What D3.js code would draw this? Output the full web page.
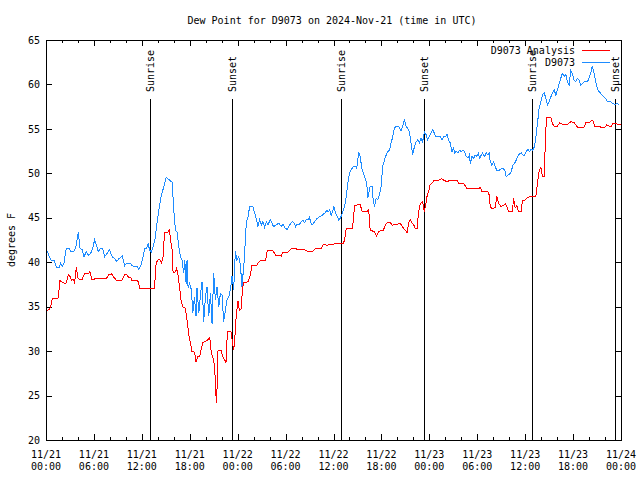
<!DOCTYPE html>
<html><head><meta charset="utf-8">
<script src="https://cdn.jsdelivr.net/npm/d3@7"></script>
<style>
body{margin:0;background:#fff}
svg text{font-family:"DejaVu Sans Mono",monospace;font-size:10px;fill:#000}
</style>
</head><body>
<svg id="c" width="640" height="480"></svg>
<script>
const titleText = "Dew Point for D9073 on 2024-Nov-21 (time in UTC)";
const yLabelText = "degrees F";
const seriesNames = ["D9073 Analysis", "D9073"];
const seriesColors = ["#ff0000", "#1e8cff"];
const startTime = Date.UTC(2024, 10, 21, 0, 0);
const endTime = Date.UTC(2024, 10, 24, 0, 0);
const yTicks = [20, 25, 30, 35, 40, 45, 50, 55, 60, 65];
const sunNames = ["Sunrise", "Sunset", "Sunrise", "Sunset", "Sunrise", "Sunset"];
const sunHours = [12.97, 23.33, 36.95, 47.3, 60.9, 71.2];

// D9073 Analysis (red): hours since 11/21 00:00 UTC, dew point (F)
const analysisHours = [0.09,0.38,0.59,0.79,1.5,1.63,1.75,1.91,2.13,2.46,2.59,2.79,3.0,3.21,3.38,3.59,3.79,4.0,4.25,4.54,4.84,5.38,5.5,5.71,5.91,6.21,7.59,7.88,8.21,8.5,8.79,9.54,9.84,10.09,10.38,10.66,10.79,11.5,11.75,13.59,13.79,14.0,14.25,14.46,14.66,14.84,15.25,15.46,15.59,15.79,15.91,16.13,16.34,16.5,16.71,16.91,17.13,17.46,17.66,17.88,18.09,18.29,18.5,18.63,18.79,19.0,19.25,19.41,19.63,19.96,20.25,20.5,20.71,21.0,21.13,21.25,21.34,21.41,21.54,21.91,22.13,22.38,22.54,22.66,22.79,23.16,23.29,23.5,23.63,23.84,24.04,24.21,24.46,24.59,24.75,25.29,25.59,25.79,26.34,26.54,26.84,27.5,27.71,28.41,28.75,29.25,29.46,29.66,30.29,30.71,31.25,31.54,32.38,32.79,33.41,33.75,34.46,34.75,35.16,35.5,36.54,36.88,37.25,37.41,37.59,38.34,38.5,38.63,39.34,39.59,40.16,40.41,40.59,40.91,41.13,41.41,41.63,41.96,42.25,42.5,42.79,43.09,43.34,43.63,44.04,44.34,44.54,44.79,45.0,45.21,45.41,45.63,45.84,46.04,46.25,46.46,46.63,46.88,47.16,47.38,47.5,47.71,47.91,48.09,48.34,48.63,49.16,49.5,49.79,50.21,50.63,51.46,51.66,52.29,52.71,54.16,54.38,54.59,55.34,55.5,55.63,55.91,56.25,56.46,56.66,57.0,57.29,57.5,57.71,57.91,58.41,58.54,58.75,58.96,59.16,59.5,59.66,60.0,60.21,60.63,61.16,61.34,61.54,61.75,61.96,62.16,62.38,62.59,62.71,63.21,63.41,63.63,64.04,64.34,64.66,65.29,65.71,66.13,66.54,67.38,67.59,68.0,68.29,68.5,68.71,69.25,69.46,70.0,70.21,70.75,70.96,71.38,71.66,72.0];
const analysisValues = [34.55,34.7,35.0,35.9,35.9,36.9,38.0,37.8,37.7,37.6,37.8,38.6,38.4,38.0,38.1,37.7,39.4,38.2,38.0,38.1,38.75,38.75,39.0,38.1,38.0,38.2,38.2,38.6,38.7,38.3,38.0,38.0,38.6,38.6,38.3,38.2,37.9,37.9,37.1,37.1,39.9,40.25,40.3,39.9,40.6,43.4,43.4,43.6,42.5,41.4,38.9,38.8,39.3,38.75,37.25,35.75,35.0,34.8,33.5,31.8,30.9,29.9,30.0,29.75,28.8,29.4,29.4,30.1,30.95,31.1,31.25,31.55,29.75,29.0,27.9,25.6,24.2,25.6,30.1,30.1,29.4,29.0,28.7,31.25,32.2,32.2,31.4,30.1,31.25,34.25,35.6,34.6,34.8,36.9,37.7,37.8,38.6,39.6,39.6,39.9,40.2,40.2,41.3,41.3,40.8,40.8,40.7,41.1,41.1,41.55,41.55,41.4,41.4,41.2,41.2,41.55,41.55,42.0,41.9,42.0,42.1,42.1,42.15,42.6,43.8,43.8,44.75,46.4,46.5,45.7,45.7,45.9,43.6,43.5,43.4,42.95,43.4,43.6,43.6,44.2,44.5,44.5,44.15,44.3,44.3,44.4,44.1,43.8,43.6,43.3,44.4,44.8,44.4,44.2,43.8,43.8,45.5,46.6,46.8,45.7,46.25,47.4,47.95,48.7,48.9,49.25,49.2,49.4,49.25,49.05,49.25,49.25,48.9,48.9,48.3,48.3,48.4,47.95,47.95,47.55,46.25,46.0,46.2,47.4,46.6,46.25,46.4,46.6,46.25,45.7,45.7,47.2,46.1,46.4,45.7,45.7,47.0,47.0,47.2,47.4,47.45,47.45,48.9,50.2,50.75,49.7,49.7,55.05,56.3,56.3,55.6,55.3,55.3,55.7,55.5,55.5,55.8,55.7,55.2,55.2,55.7,55.7,55.9,55.9,55.3,55.3,55.2,55.2,55.45,55.2,55.6,55.6,55.45,55.45];

// D9073 observed (blue)
const obsHours = [0.16,0.59,1.0,1.34,1.63,1.84,2.04,2.25,2.54,2.88,3.09,3.5,3.79,4.04,4.25,4.54,4.75,5.04,5.29,5.59,5.79,6.09,6.34,6.54,6.84,7.09,7.34,7.66,7.96,8.29,8.59,8.84,9.13,9.54,9.84,10.09,10.66,10.79,11.41,11.63,11.91,12.16,12.34,12.59,12.79,12.96,13.16,13.38,13.63,13.84,14.13,14.41,14.75,15.04,15.38,15.79,16.0,16.21,16.41,16.63,16.84,17.04,17.25,17.38,17.54,17.66,17.79,17.96,18.21,18.38,18.59,18.79,18.91,19.13,19.34,19.54,19.75,19.96,20.16,20.38,20.59,20.79,21.0,21.21,21.41,21.63,21.84,22.04,22.25,22.46,22.66,22.88,23.09,23.29,23.5,23.71,23.91,24.13,24.34,24.54,24.79,24.96,25.09,25.29,25.5,25.91,26.13,26.34,26.54,26.75,26.96,27.16,27.38,27.59,27.79,28.09,28.29,28.5,28.84,29.13,29.46,29.66,29.96,30.21,30.5,30.84,31.04,31.25,31.46,31.66,31.96,32.16,32.38,32.59,32.79,33.0,33.13,33.34,33.63,33.91,34.25,34.59,34.88,35.16,35.38,35.5,35.71,35.91,36.04,36.25,36.46,36.66,36.88,37.16,37.38,37.59,37.79,38.0,38.21,38.5,38.75,38.91,39.04,39.16,39.34,39.54,39.75,39.96,40.16,40.29,40.41,40.59,40.84,40.91,41.13,41.34,41.54,41.75,41.96,42.16,42.38,42.59,42.79,43.0,43.21,43.41,43.63,43.84,44.16,44.46,44.66,44.88,45.09,45.29,45.5,45.71,45.91,46.13,46.34,46.54,46.75,46.96,47.16,47.38,47.59,47.79,48.09,48.41,48.63,48.84,49.09,49.38,49.59,49.79,50.0,50.21,50.41,50.63,50.84,51.04,51.16,51.38,51.59,51.79,52.0,52.21,52.41,52.63,52.84,53.0,53.13,53.34,53.54,53.75,53.96,54.16,54.29,54.5,54.66,54.91,55.13,55.34,55.5,55.63,55.84,56.04,56.25,56.46,56.75,57.0,57.29,57.5,57.63,57.84,58.04,58.25,58.46,58.66,58.88,59.09,59.29,59.5,59.71,59.91,60.13,60.34,60.54,60.75,60.96,61.16,61.34,61.54,61.75,61.96,62.16,62.38,62.59,62.79,63.0,63.21,63.41,63.63,63.84,64.04,64.25,64.46,64.66,64.88,65.09,65.29,65.5,65.71,65.91,66.13,66.34,66.54,66.75,66.96,67.16,67.38,67.79,68.0,68.21,68.41,68.63,68.84,69.04,69.25,69.66,70.09,70.29,70.71,70.91,71.25,71.46,71.75];
const obsValues = [41.2,40.25,40.2,39.4,39.4,39.9,39.5,39.9,41.6,41.6,41.2,41.2,41.9,43.4,41.6,41.4,40.6,41.2,40.8,41.0,41.4,42.5,41.9,41.2,41.6,41.6,40.6,41.0,41.4,40.6,40.4,40.1,40.4,40.7,39.6,39.9,39.8,39.6,39.5,39.2,39.7,40.6,41.5,41.6,42.1,41.4,41.1,41.6,42.5,44.0,45.9,47.4,48.5,49.55,49.3,49.0,45.9,43.6,43.4,41.75,40.6,40.2,38.75,40.2,37.6,40.2,37.1,37.6,36.9,34.25,36.1,33.9,37.1,34.25,36.3,37.8,33.3,36.1,37.25,33.9,36.5,33.1,38.75,35.75,37.25,35.0,36.5,36.3,33.3,34.6,35.75,36.1,36.9,38.4,36.9,41.2,40.2,40.6,39.7,37.25,39.9,42.5,44.55,45.1,46.25,46.25,45.5,44.9,44.0,44.75,44.2,44.55,43.9,44.55,44.2,44.8,44.4,44.0,44.2,44.4,44.0,44.3,43.8,43.7,44.2,44.55,44.45,44.0,44.3,44.2,44.55,44.75,44.45,44.8,44.75,45.1,44.45,44.2,44.55,44.9,45.1,45.3,45.5,45.8,45.7,45.9,45.3,45.75,46.3,45.5,45.2,44.75,45.0,45.7,46.25,47.4,48.9,50.0,50.45,50.75,50.8,50.6,51.5,52.4,51.9,50.6,50.0,49.45,48.9,47.2,47.7,48.5,48.5,47.4,46.25,47.2,47.0,47.6,48.5,50.75,51.5,52.05,52.4,52.6,53.4,54.1,55.1,55.25,55.25,54.8,55.25,56.1,55.25,55.1,54.7,53.4,52.05,53.0,53.55,53.75,53.45,53.95,53.55,54.7,54.35,53.75,54.35,54.9,54.5,54.1,54.2,54.1,53.8,54.1,54.1,54.4,53.75,53.4,52.4,52.95,52.25,52.5,52.3,52.6,52.45,52.6,52.45,51.9,51.7,52.05,51.1,51.9,51.7,52.05,51.9,52.25,51.7,52.05,52.25,51.9,52.3,52.05,52.25,51.3,50.9,51.3,50.75,50.3,50.35,50.5,50.5,50.2,49.6,49.8,49.9,50.2,50.9,51.1,51.5,51.9,52.2,52.3,52.05,52.05,52.45,52.7,52.45,52.7,52.6,53.0,54.1,55.6,57.3,58.05,58.8,59.1,58.4,57.7,58.05,58.6,59.0,59.4,58.8,59.4,60.1,60.7,61.25,60.9,61.1,60.3,59.9,61.6,61.25,60.5,60.3,60.7,60.5,59.9,60.1,60.3,60.3,60.7,61.25,62.1,61.25,60.3,59.55,59.2,58.8,58.4,58.05,58.05,57.9,57.7,57.9,57.7];

const svg = d3.select("#c");
const L = 46, R = 621, T = 40, B = 440;
const toDate = h => new Date(startTime + h * 3600e3);
const x = d3.scaleUtc().domain([new Date(startTime), new Date(endTime)]).range([L, R]);
const y = d3.scaleLinear().domain([20, 65]).range([B, T]);

// title
svg.append("text").attr("x", 332).attr("y", 20).attr("text-anchor", "middle")
  .attr("dominant-baseline", "central").text(titleText);
// y label
svg.append("text").attr("transform", "translate(11,240) rotate(-90)")
  .attr("text-anchor", "middle").attr("dominant-baseline", "central").text(yLabelText);

// sunrise / sunset lines
const sun = svg.append("g");
sunHours.forEach((h, i) => {
  const sx = Math.round(x(toDate(h))) + 0.5;
  sun.append("line").attr("x1", sx).attr("x2", sx).attr("y1", 99).attr("y2", B)
    .attr("stroke", "#000").attr("stroke-width", 1).attr("shape-rendering", "crispEdges");
  sun.append("text").attr("transform", `translate(${sx},92) rotate(-90)`)
    .attr("dominant-baseline", "central").text(sunNames[i]);
});

// axes
const majorTicks = d3.utcHour.every(6).range(new Date(startTime), new Date(endTime + 1));
const minorTicks = d3.utcHour.every(2).range(new Date(startTime), new Date(endTime + 1))
  .filter(d => d.getUTCHours() % 6 !== 0);

function styleAxis(g) {
  g.attr("font-family", null).attr("font-size", null).attr("shape-rendering", "crispEdges");
  g.select(".domain").remove();
  g.selectAll("line").attr("stroke", "#000");
}
svg.append("g").attr("transform", `translate(${L},0)`)
  .call(d3.axisLeft(y).tickValues(yTicks).tickSizeInner(-6).tickSizeOuter(0).tickPadding(6))
  .call(styleAxis);
svg.append("g").attr("transform", `translate(${R},0)`)
  .call(d3.axisRight(y).tickValues(yTicks).tickSizeInner(-6).tickSizeOuter(0).tickFormat(""))
  .call(styleAxis);
svg.append("g").attr("transform", `translate(0,${B})`)
  .call(d3.axisBottom(x).tickValues(majorTicks).tickSizeInner(-6).tickSizeOuter(0).tickFormat(""))
  .call(styleAxis);
svg.append("g").attr("transform", `translate(0,${B})`)
  .call(d3.axisBottom(x).tickValues(minorTicks).tickSizeInner(-3).tickSizeOuter(0).tickFormat(""))
  .call(styleAxis);
svg.append("g").attr("transform", `translate(0,${T})`)
  .call(d3.axisTop(x).tickValues(majorTicks).tickSizeInner(-6).tickSizeOuter(0).tickFormat(""))
  .call(styleAxis);
svg.append("g").attr("transform", `translate(0,${T})`)
  .call(d3.axisTop(x).tickValues(minorTicks).tickSizeInner(-3).tickSizeOuter(0).tickFormat(""))
  .call(styleAxis);

// x tick labels (two lines)
const fmtDay = d3.utcFormat("%m/%d"), fmtTime = d3.utcFormat("%H:%M");
const xl = svg.append("g").selectAll("text").data(majorTicks).join("text")
  .attr("text-anchor", "middle").attr("x", d => x(d)).attr("y", 454)
  .attr("dominant-baseline", "central");
xl.append("tspan").attr("x", d => x(d)).text(d => fmtDay(d));
xl.append("tspan").attr("x", d => x(d)).attr("dy", 12).text(d => fmtTime(d));

// border
svg.append("rect").attr("x", L + 0.5).attr("y", T + 0.5).attr("width", R - L).attr("height", B - T)
  .attr("fill", "none").attr("stroke", "#000").attr("shape-rendering", "crispEdges");

// series
const line = d3.line().x(d => x(toDate(d[0]))).y(d => y(d[1]));
const series = [
  analysisHours.map((h, i) => [h, analysisValues[i]]),
  obsHours.map((h, i) => [h, obsValues[i]])
];
series.forEach((s, i) => {
  svg.append("path").datum(s).attr("d", line).attr("fill", "none")
    .attr("stroke", seriesColors[i]).attr("stroke-width", 1).attr("shape-rendering", "crispEdges");
});

// legend
seriesNames.forEach((name, i) => {
  const ly = 50 + i * 12;
  svg.append("text").attr("x", 575).attr("y", ly).attr("text-anchor", "end")
    .attr("dominant-baseline", "central").text(name);
  svg.append("line").attr("x1", 582).attr("x2", 610).attr("y1", ly + 0.5).attr("y2", ly + 0.5)
    .attr("stroke", seriesColors[i]).attr("shape-rendering", "crispEdges");
});
</script>
</body></html>
